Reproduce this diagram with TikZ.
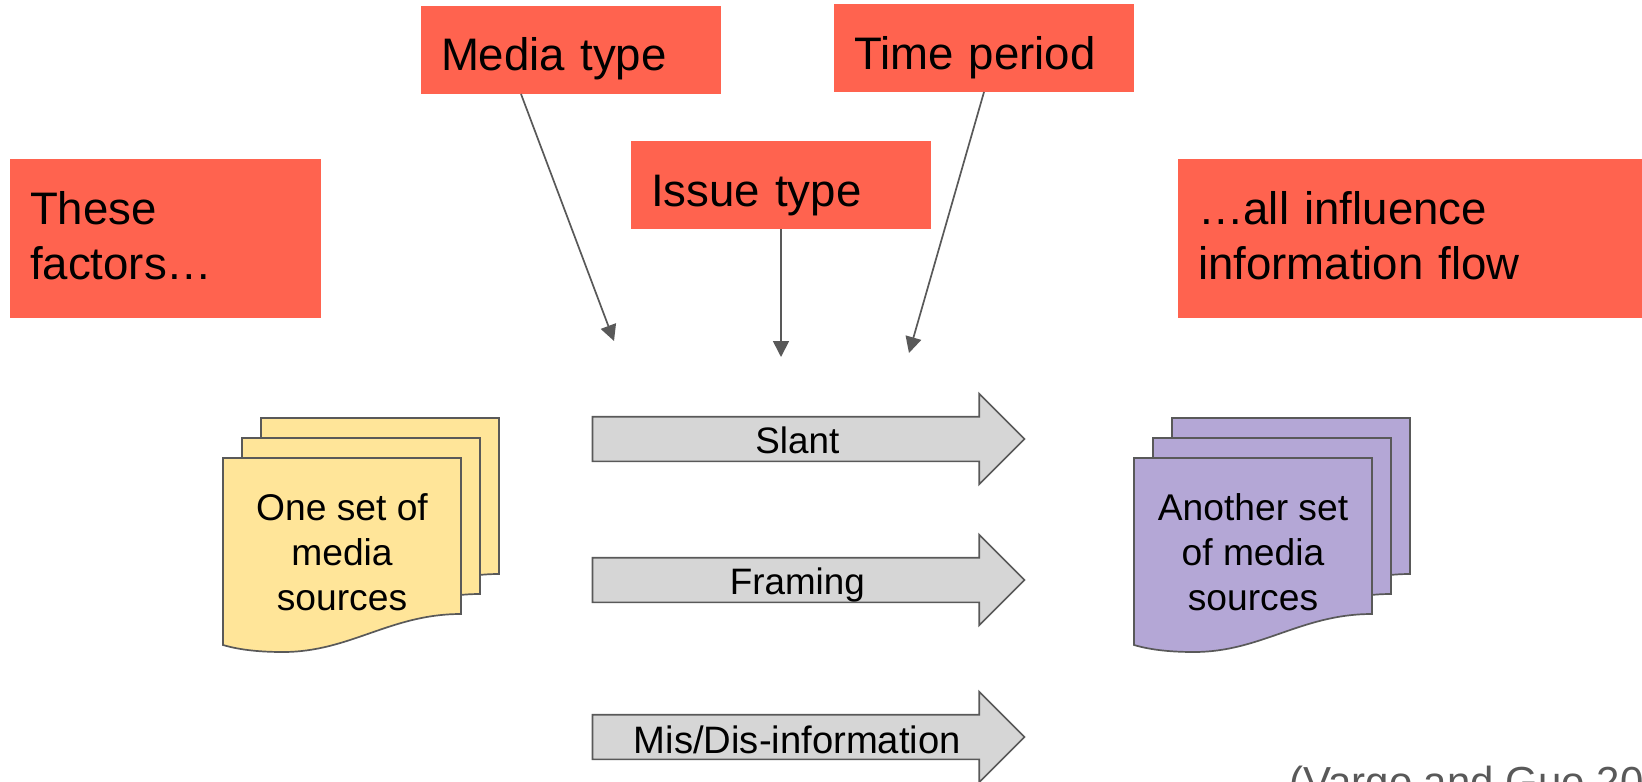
\documentclass[tikz,border=0pt]{standalone}
\usepackage{fontspec}
\setmainfont{Liberation Sans}
\usetikzlibrary{arrows.meta,shapes.arrows}
\definecolor{factorred}{HTML}{FF634F}
\definecolor{lightyellow}{HTML}{FFE599}
\definecolor{lightpurple}{HTML}{B4A7D6}
\definecolor{arrowgray}{HTML}{D6D6D6}
\definecolor{linegray}{HTML}{595959}
\tikzset{
  factor/.style={anchor=north west,fill=factorred,inner ysep=0pt,inner xsep=10pt,outer sep=0pt,align=left,
    font=\fontsize{22.8}{27.5}\selectfont,text height=32.5pt},
  link/.style={draw=linegray,line width=.85pt,-{Triangle[length=8pt,width=8pt]}},
  flow/.style={single arrow,draw=linegray,fill=arrowgray,line width=.85pt,anchor=tail,outer sep=0pt,inner sep=0pt,
    single arrow head extend=11.5pt,minimum height=216pt,text height=18pt,text depth=3.5pt,
    font=\fontsize{18.4}{22}\selectfont},
  sheet/.style={draw=linegray,line width=.85pt},
  sources/.style={align=center,inner sep=0pt,font=\fontsize{18.6}{22.5}\selectfont},
}
\begin{document}
\begin{tikzpicture}[x=.5pt,y=-.5pt]
        \useasboundingbox (0,0) rectangle (1642,781);
        \node[factor,text width=130pt,text depth=11.5pt] (mediatype) at (421,6) {Media type};
        \node[factor,text width=130pt,text depth=11.5pt] (timeperiod) at (834,4) {Time period};
        \node[factor,text width=130pt,text depth=11.5pt] (issuetype) at (631,141) {Issue type};
        \node[factor,text width=135.5pt,text depth=47pt] (thesefactors) at (10,159) {These\\factors…};
        \node[factor,text width=212pt,text depth=47pt] (allinfluence) at (1178,159) {…all influence\\information flow};
        \coordinate (mediaend) at (614,341);
        \coordinate (issueend) at (781,357);
        \coordinate (timeend) at (909,353);
        \draw[link] ([xshift=-25pt]mediatype.south) -- (mediaend);
        \draw[link] (issuetype.south) -- (issueend);
        \draw[link] (timeperiod.south) -- (timeend);
        \foreach \y/\name/\flowtext in {439/slant/Slant, 580/framing/Framing, 737/misinfo/{\fontsize{19.1}{22}\selectfont\raisebox{-1pt}{Mis/Dis-information}}}
        \node[flow] (\name) at (592.5,\y) {\flowtext};
        % three sheets, back one first
        \foreach \dx/\sheetcolor in {0/lightyellow, 911/lightpurple}
        \foreach \i in {2,1,0}
        \draw[sheet,fill=\sheetcolor,shift={(\dx+19*\i,-20*\i)}] (223,458) -- (461,458) -- (461,614)
          .. controls (390,614) and (350,652) .. (283,652) .. controls (260,652) and (240,650) .. (223,645) -- cycle;
        \node[sources] (onesetlabel) at (342,552) {One set of\\media\\sources};
        \node[sources] (anotherlabel) at (1253,552) {Another set\\of media\\sources};
        \node[anchor=base west,inner sep=0pt,text=linegray,font=\fontsize{21}{25}\selectfont] (citation) at (1289,796) {(Vargo and Guo 20};
\end{tikzpicture}
\end{document}
